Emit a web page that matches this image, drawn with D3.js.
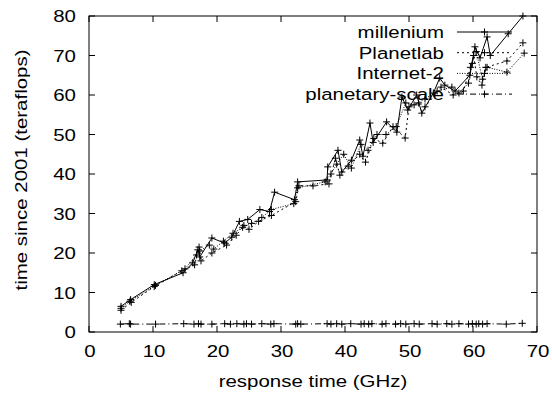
<!DOCTYPE html>
<html>
<head>
<meta charset="utf-8">
<script src="https://cdn.jsdelivr.net/npm/d3@7"></script>
<style>
  body { margin: 0; background: #fff; }
  svg text { font-family: "Liberation Sans", Arial, Helvetica, sans-serif; font-size: 16.5px; fill: #000; }
  .line { fill: none; stroke: #000; stroke-width: 1; }
  .pt { stroke: #000; stroke-width: 1; }
</style>
</head>
<body>
<div id="chart"></div>
<script>
// --- data ---
const xTicks = [0, 10, 20, 30, 40, 50, 60, 70];
const yTicks = [0, 10, 20, 30, 40, 50, 60, 70, 80];

const millenium = [
  [5, 6.5], [6.5, 8.2], [10.2, 12], [14.7, 15], [16.2, 17.5], [17, 20.8], [17.3, 19],
  [19.2, 23.8], [21.2, 22.5], [22.3, 24], [23.5, 28], [24.8, 28.5], [26.7, 31], [28.2, 30.5],
  [29, 35.4], [32.1, 33.5], [32.6, 38], [37.2, 38.5], [37.3, 41.8], [38.9, 46], [39.5, 40.5],
  [41, 43.5], [42.3, 48.6], [42.8, 44.5], [43.9, 52.9], [44.4, 48], [46.5, 53.2], [48.1, 50.6],
  [48.9, 59.5], [49.8, 56.2], [51.2, 60], [52, 55.4], [53.8, 60.5], [54.8, 64.3], [55.6, 62.5],
  [57.2, 61], [59.5, 65], [60.3, 72.2], [61.1, 69.4], [62.2, 74.7], [62.7, 70], [65.5, 75.5],
  [67.8, 80]
];
const planetlab = [
  [5, 5.5], [6.6, 7.5], [10.2, 11.5], [14.5, 15.5], [16.5, 17], [17.2, 21.5], [17.5, 18],
  [19.2, 20], [21.5, 22], [23, 24.5], [24.2, 27], [25, 26], [26.5, 28], [28.5, 29.5],
  [32.3, 33], [32.8, 37], [35, 37], [37.5, 37.5], [38.5, 44], [39.2, 39.7], [40.5, 42],
  [42.3, 45], [43.2, 43], [44.5, 49], [45.9, 47.8], [47.5, 52], [49.4, 49.1], [50, 57],
  [51.5, 58], [52.5, 57], [55, 62], [56.9, 60], [58.5, 61], [59.6, 67], [60.1, 70],
  [60.6, 64.6], [61.4, 62.5], [62, 67], [65.3, 68.6], [67.8, 73.2]
];
const internet2 = [
  [5, 6], [6.4, 7.8], [10.4, 11.8], [15, 16], [16.8, 19.5], [17.3, 20.5], [18.8, 22],
  [19.5, 21], [21, 23], [22.5, 25], [24, 26.5], [25.4, 27.5], [27, 29], [28.5, 31],
  [32, 32.5], [32.6, 36.5], [36.9, 38], [37.8, 40], [38.7, 42.5], [39.8, 45], [41, 41.5],
  [42.5, 47.5], [43.6, 46], [45, 50], [46.4, 50], [48, 52], [49.5, 58], [50.8, 57.5],
  [52.5, 59], [54.4, 61], [56.7, 62], [57.8, 60.5], [59.3, 63], [59.9, 68], [60.5, 71],
  [61.5, 64], [62.2, 67], [65.3, 65.8], [68, 70.6]
];
const planetaryScale = [
  [4.9, 2], [6.3, 2.1], [6.5, 2], [10.4, 2], [14.8, 2.1], [16.4, 2], [17.1, 2.1], [17.5, 2],
  [19.2, 2], [21.2, 2.1], [22.1, 2], [23.1, 2.1], [24.2, 2], [24.6, 2.1], [25.4, 2], [27, 2.1],
  [28.4, 2], [28.9, 2.1], [32.3, 2], [32.6, 2.1], [33.1, 2], [37.2, 2.1], [37.8, 2], [38.7, 2.1],
  [39.5, 2], [40.9, 2.1], [42.5, 2], [43, 2.1], [43.7, 2], [44.2, 2.1], [45.8, 2], [46.4, 2.1],
  [47.9, 2], [48.7, 2.1], [49.5, 2], [50.8, 2.1], [51.6, 2], [53.6, 2.1], [54.4, 2], [55.9, 2.1],
  [56.7, 2], [57.8, 2.1], [59.3, 2], [59.9, 2.1], [60.5, 2], [60.9, 2.1], [61.5, 2], [62.2, 2.1],
  [65.2, 2], [67.7, 2.2]
];

const series = [
  { name: 'millenium', data: millenium, dash: null },
  { name: 'Planetlab', data: planetlab, dash: '2,3' },
  { name: 'Internet-2', data: internet2, dash: '1,1.5' },
  { name: 'planetary-scale', data: planetaryScale, dash: '6,3,1,3' }
];

// --- sizing ---
const W = 552, H = 394;
const margin = { top: 16, right: 15, bottom: 62, left: 89 };
const width = W - margin.left - margin.right;
const height = H - margin.top - margin.bottom;
const sx = 1.24; // the original's lettering is a little wide

const x = d3.scaleLinear().domain([0, 70]).range([0, width]);
const y = d3.scaleLinear().domain([0, 80]).range([height, 0]);

const svg = d3.select('#chart').append('svg')
  .attr('width', W).attr('height', H);

const g = svg.append('g')
  .attr('transform', `translate(${margin.left},${margin.top})`);

function label(sel, tx, ty, anchor, txt, rot) {
  return sel.append('text')
    .attr('transform', `translate(${tx},${ty})` + (rot ? ` rotate(${rot})` : '') + ` scale(${sx},1)`)
    .attr('text-anchor', anchor)
    .text(txt);
}

// ticks (inward, mirrored on all four sides)
const tk = 6;
g.selectAll('.xt').data(xTicks).enter().append('path')
  .attr('class', 'line')
  .attr('d', d => `M${x(d)},${height}v${-tk}M${x(d)},0v${tk}`);
g.selectAll('.yt').data(yTicks).enter().append('path')
  .attr('class', 'line')
  .attr('d', d => `M0,${y(d)}h${tk}M${width},${y(d)}h${-tk}`);

xTicks.forEach(d => label(g, x(d) + 1, height + 25, 'middle', d));
yTicks.forEach(d => label(g, -13, y(d) + 6, 'end', d));

// border
g.append('rect')
  .attr('width', width).attr('height', height)
  .attr('fill', 'none').attr('stroke', '#000').attr('stroke-width', 1);

// axis titles
label(svg, margin.left + width / 2, 387, 'middle', 'response time (GHz)');
label(svg, 27, margin.top + height / 2 - 4, 'middle', 'time since 2001 (teraflops)', -90);

const line = d3.line().x(d => x(d[0])).y(d => y(d[1]));
const plus = (sel, px, py) => sel.append('path')
  .attr('class', 'pt')
  .attr('d', `M${px - 3.5},${py}h7M${px},${py - 3.5}v7`);

// key
const keyRight = 444 - margin.left;
const keyX1 = 457 - margin.left, keyX2 = 512 - margin.left;
series.forEach((s, i) => {
  const ky = 32 - margin.top + i * 20.7;
  label(g, keyRight, ky + 6, 'end', s.name);
  g.append('line').attr('class', 'line')
    .attr('x1', keyX1).attr('x2', keyX2).attr('y1', ky).attr('y2', ky)
    .attr('stroke-dasharray', s.dash);
  plus(g, (keyX1 + keyX2) / 2, ky);
});

// series lines + points
series.forEach(s => {
  g.append('path').datum(s.data)
    .attr('class', 'line')
    .attr('stroke-dasharray', s.dash)
    .attr('d', line);
  const pts = g.append('g');
  s.data.forEach(d => plus(pts, x(d[0]), y(d[1])));
});
</script>
</body>
</html>
